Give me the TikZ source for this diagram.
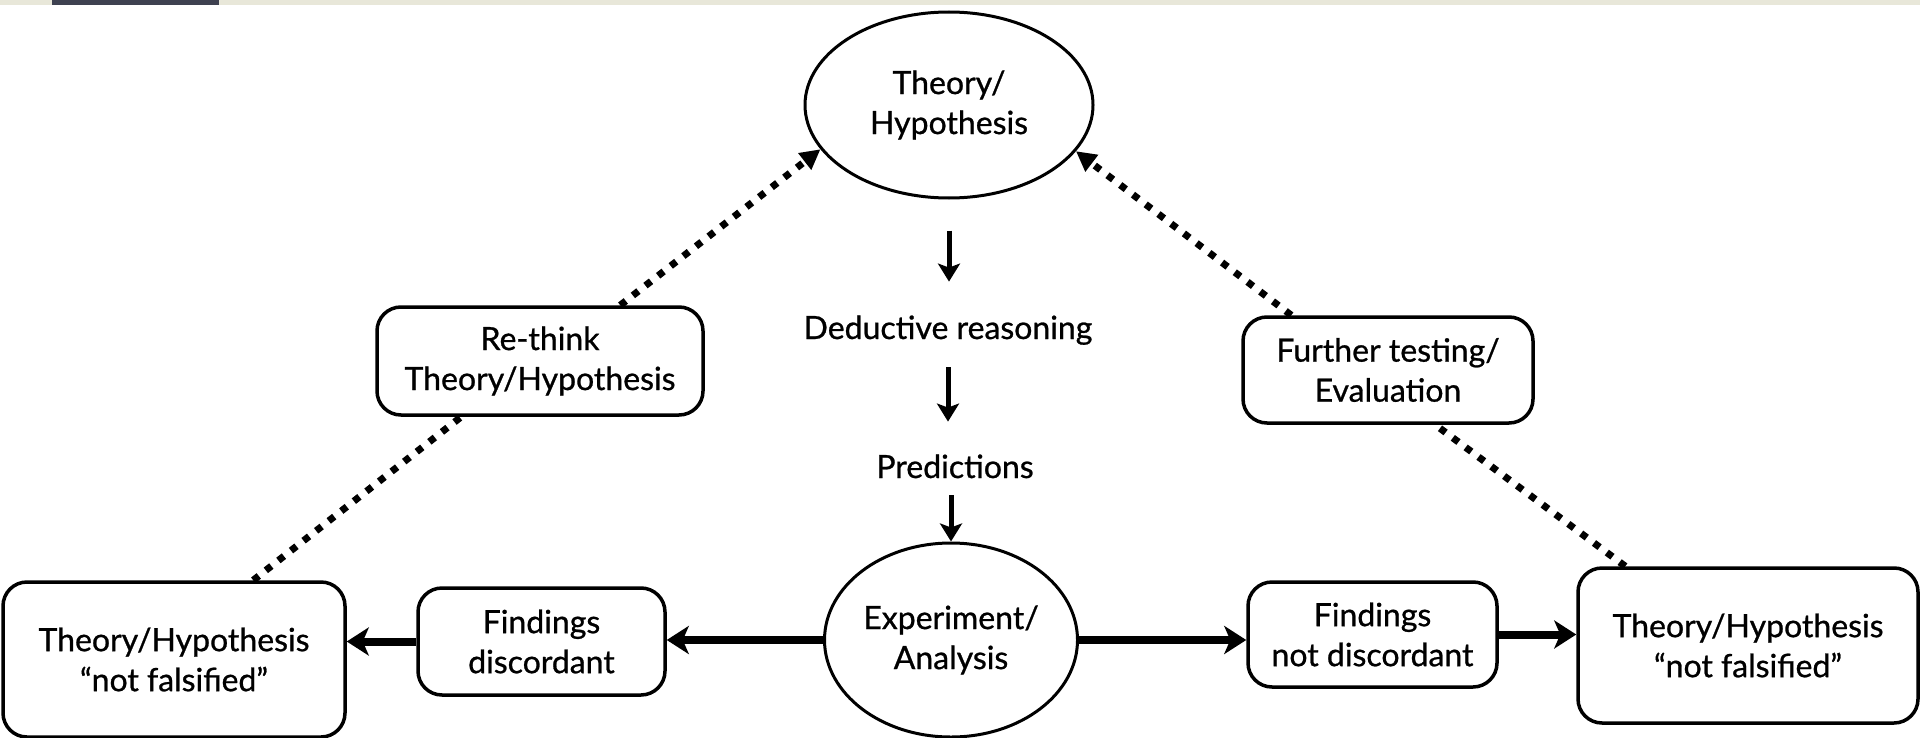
\documentclass[tikz,border=0pt]{standalone}
\usepackage{fontspec}
\setmainfont{Lato}[FakeBold=0.8]
\usetikzlibrary{arrows.meta,shapes.geometric,calc}
\definecolor{stripbeige}{HTML}{E8E7D9}
\definecolor{stripdark}{HTML}{3E4150}
\begin{document}
\begin{tikzpicture}[x=0.5pt,y=-0.5pt,
  lbl/.style={font=\fontsize{16}{20}\selectfont, align=center, text=black},
  rbox/.style={lbl, draw, line width=1.75pt, rounded corners=12pt, inner sep=0pt},
  ell/.style={lbl, draw, ellipse, line width=1.5pt, inner sep=0pt},
  plain/.style={lbl, inner sep=0pt, text height=11.5pt, text depth=3.5pt},
  varrow/.style={line width=2.5pt, -{Stealth[length=9pt,width=11pt,inset=2pt]}},
  harrow/.style={line width=4pt, -{Stealth[length=11pt,width=14pt,inset=3pt]}},
  dotline/.style={line width=3.5pt, dash pattern=on 3.5pt off 4.5pt},
  dotarrow/.style={dotline, -{Triangle[length=10pt,width=10pt]}},
]
\useasboundingbox (0,0) rectangle (1920,738);
\fill[white] (0,0) rectangle (1920,738);
\fill[stripbeige] (0,0) rectangle (1920,5);
\fill[stripdark] (52,0) rectangle (219,5);

\node[ell, minimum width=144pt, minimum height=93pt] (th) at (949,105) {Theory/\\Hypothesis};
\node[ell, minimum width=126.5pt, minimum height=97pt] (exp) at (951,640) {Experiment/\\Analysis};
\node[plain] (ded) at (948,331) {Deductive reasoning};
\node[plain] (pred) at (955,470) {Predictions};
\node[rbox, minimum width=163pt, minimum height=54pt] (rt) at (540,361) {Re-think\\Theory/Hypothesis};
\node[rbox, minimum width=145pt, minimum height=53pt] (ft) at (1388,370) {Further testing/\\Evaluation};
\node[rbox, minimum width=171pt, minimum height=77.5pt] (lb) at (174,659.5) {Theory/Hypothesis\\“not falsified"};
\node[rbox, minimum width=123.5pt, minimum height=53.5pt] (fd) at (541.5,641.5) {Findings\\discordant};
\node[rbox, minimum width=124.5pt, minimum height=52.5pt] (fnd) at (1372.5,634.5) {Findings\\not discordant};
\node[rbox, minimum width=170pt, minimum height=77.5pt] (rb) at (1748,645.5) {Theory/Hypothesis\\“not falsified"};

\draw[varrow, shorten <=15.5pt, shorten >=17pt] (th.south) -- (th.south |- ded.north);
\draw[varrow, shorten <=10.5pt, shorten >=16.5pt] (ded.south) -- (ded.south |- pred.north);
\draw[varrow, shorten <=5pt] (exp.north |- pred.south) -- (exp.north);

\draw[harrow] (exp.west) -- (exp.west -| fd.east);
\draw[harrow] (fd.west) -- (fd.west -| lb.east);
\draw[harrow] (exp.east) -- (exp.east -| fnd.west);
\draw[harrow] (fnd.east) -- (fnd.east -| rb.west);

\draw[dotline] ([xshift=126pt]lb.north west) -- ([xshift=43pt]rt.south west);
\draw[dotarrow] ([xshift=122.5pt]rt.north west) -- (th.199);
\draw[dotline] ([xshift=24.5pt]rb.north west) -- ([xshift=97pt]ft.south west);
\draw[dotarrow] ([xshift=25pt]ft.north west) -- (th.340);
\end{tikzpicture}
\end{document}
